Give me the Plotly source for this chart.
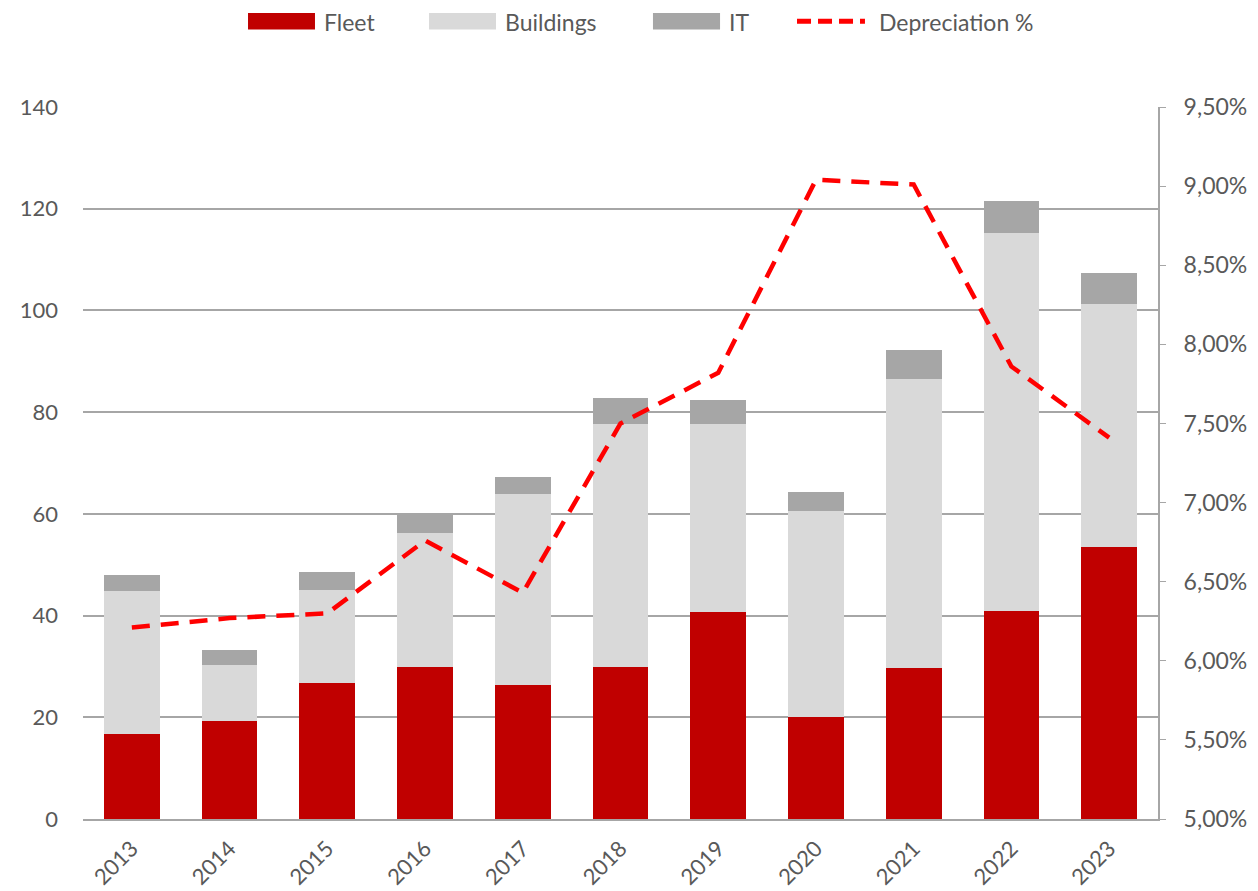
import plotly.graph_objects as go

years = ["2013", "2014", "2015", "2016", "2017", "2018", "2019", "2020", "2021", "2022", "2023"]
fleet = [16.8, 19.2, 26.7, 29.8, 26.3, 29.9, 40.7, 20.1, 29.7, 40.9, 53.5]
buildings = [28.1, 11.1, 18.3, 26.4, 37.7, 47.7, 37.0, 40.5, 56.8, 74.3, 47.8]
it = [3.1, 2.9, 3.6, 3.8, 3.3, 5.1, 4.7, 3.7, 5.8, 6.3, 6.1]
depreciation = [0.0621, 0.0627, 0.0630, 0.0676, 0.0643, 0.0750, 0.0782, 0.0904, 0.0901, 0.0786, 0.0741]

series_names = ["Fleet", "Buildings", "IT", "Depreciation %"]
colors = ["#C00000", "#D9D9D9", "#A6A6A6", "#FF0000"]

font_family = "Lato, 'Open Sans', sans-serif"
text_color = "#595959"

fig = go.Figure()
for name, vals, col in zip(series_names[:3], [fleet, buildings, it], colors[:3]):
    fig.add_trace(go.Bar(x=years, y=vals, name=name, showlegend=False,
                         marker=dict(color=col, line=dict(width=0))))
fig.add_trace(go.Scatter(x=years, y=depreciation, name=series_names[3], yaxis="y2", mode="lines",
                         showlegend=False,
                         line=dict(color=colors[3], width=4.5, dash="18px,11px")))

# custom legend (wide swatches like the original)
legend_items = [
    (0.1535, 0.2158, 0.2223),
    (0.3219, 0.3842, 0.3907),
    (0.5302, 0.5926, 0.5991),
    (0.6642, 0.7274, 0.7386),
]
shapes = []
annotations = []
for i, (x0, x1, xt) in enumerate(legend_items):
    if i < 3:
        shapes.append(dict(type="rect", xref="paper", yref="paper", x0=x0, x1=x1, y0=1.109, y1=1.132,
                           fillcolor=colors[i], line=dict(width=0)))
    else:
        shapes.append(dict(type="line", xref="paper", yref="paper", x0=x0, x1=x1, y0=1.1205, y1=1.1205,
                           line=dict(color=colors[i], width=5, dash="14px,7px")))
    annotations.append(dict(text=series_names[i], xref="paper", yref="paper", x=xt, y=1.119,
                            xanchor="left", yanchor="middle", showarrow=False,
                            font=dict(family=font_family, size=23, color=text_color)))

fig.update_layout(
    barmode="stack",
    bargap=0.43,
    width=1258, height=891,
    margin=dict(l=75, r=108, t=99, b=80),
    paper_bgcolor="white", plot_bgcolor="white",
    separators=",.",
    font=dict(family=font_family, size=22, color=text_color),
    showlegend=False,
    shapes=shapes,
    annotations=annotations,
    xaxis=dict(showgrid=False, showline=True, linecolor="#A6A6A6", linewidth=2,
               tickangle=-45, tickfont=dict(size=22, color=text_color), ticks="",
               ticklabelstandoff=6, automargin=False),
    yaxis=dict(range=[0, 140], dtick=20, showgrid=True, gridcolor="#A6A6A6", gridwidth=1.5,
               showline=False, zeroline=False, tickfont=dict(size=22, color=text_color), ticks="",
               ticklabelstandoff=24, automargin=False),
    yaxis2=dict(range=[0.05, 0.095], dtick=0.005, tickformat=".2%", overlaying="y", side="right",
                showgrid=False, zeroline=False, showline=True, linecolor="#A6A6A6", linewidth=2,
                ticks="outside", ticklen=6, tickcolor="#A6A6A6",
                tickfont=dict(size=23, color=text_color), ticklabelstandoff=13, automargin=False),
)

fig.write_html("out.html")
